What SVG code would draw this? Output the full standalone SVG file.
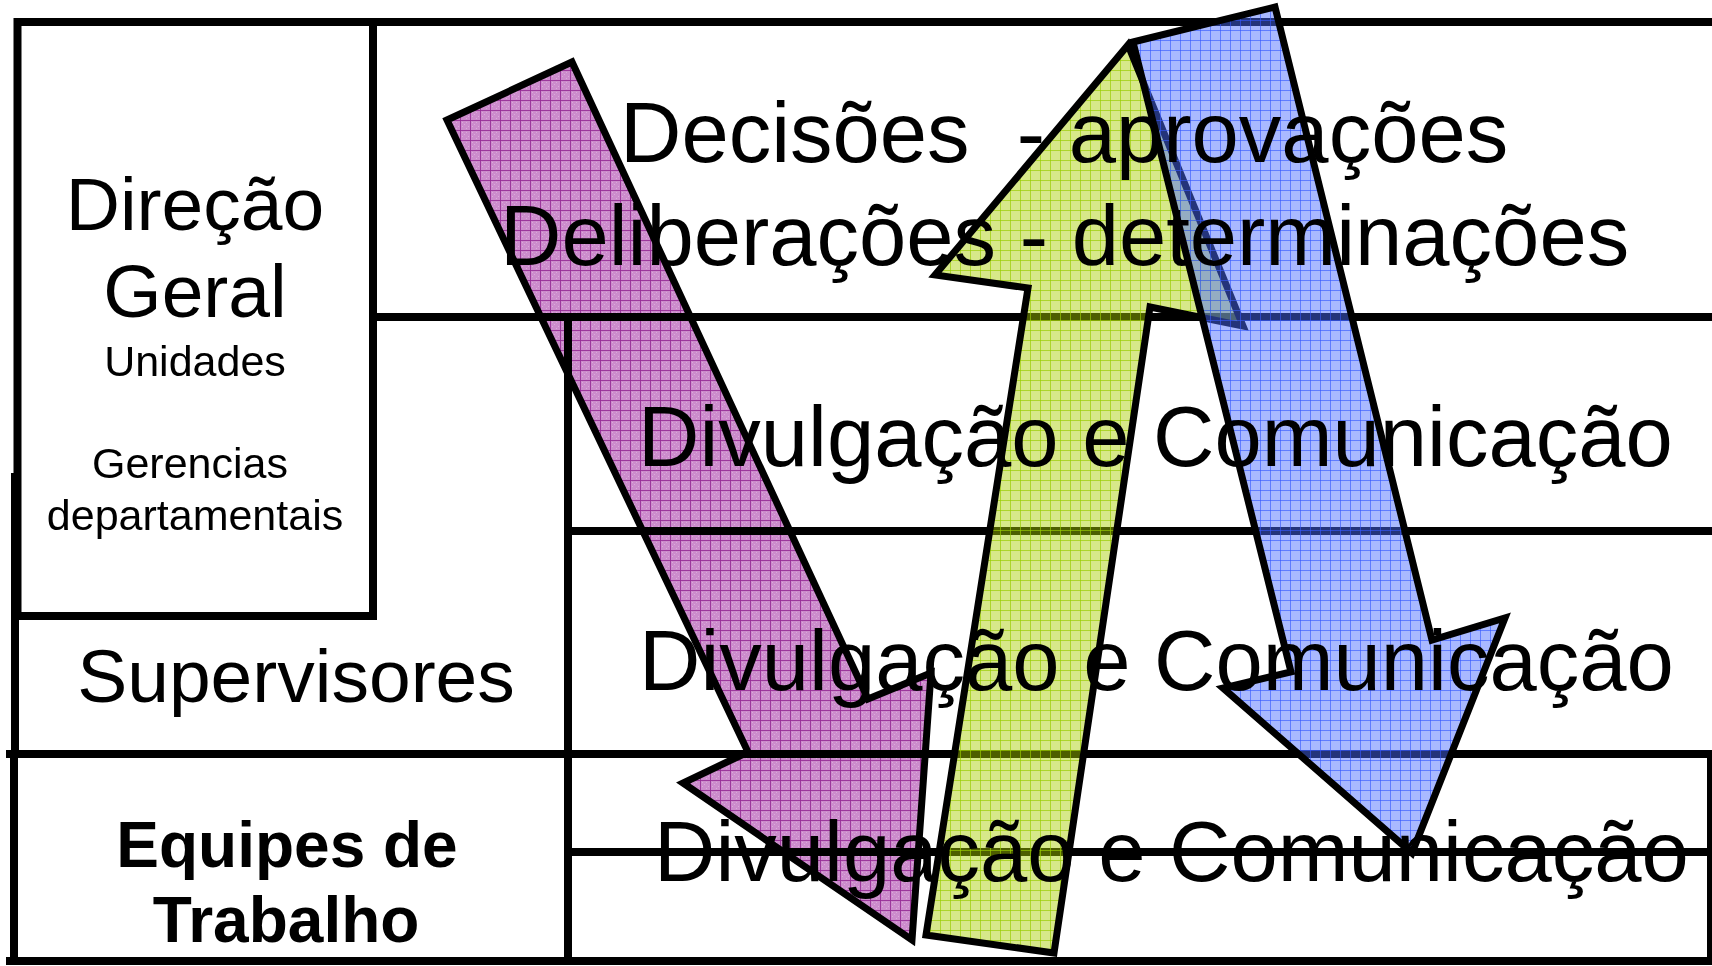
<svg xmlns="http://www.w3.org/2000/svg" width="1712" height="966" viewBox="0 0 1712 966">
<style>
.ln{fill:none;stroke:#000;stroke-width:8;stroke-linecap:square}
.arrow{stroke:#000;stroke-width:7;stroke-linejoin:miter}
.t{font-family:"Liberation Sans",Arial,sans-serif;fill:#000}
.big{font-size:85px}
.mid{font-size:75px}
.sm{font-size:43px}
.bold{font-size:64px;font-weight:bold}
</style>
<defs>
<pattern id="pPurple" width="10" height="10" patternUnits="userSpaceOnUse">
<rect width="10" height="10" fill="#cc8ccc"/>
<path d="M2 2h1v1h-1zM6 2h1v1h-1zM4 4h1v1h-1zM8 6h1v1h-1zM2 6h1v1h-1zM6 8h1v1h-1z" fill="#dcaadc"/>
<path d="M0 0.5H10M0.5 0V10" stroke="#962e96" stroke-width="0.9"/>
</pattern>
<pattern id="pGreen" width="10" height="10" patternUnits="userSpaceOnUse">
<rect width="10" height="10" fill="#a8cc00" fill-opacity="0.46"/>
<path d="M0 0.5H10M0.5 0V10" stroke="#99cc00" stroke-opacity="0.75" stroke-width="0.9"/>
</pattern>
<pattern id="pBlue" width="10" height="10" patternUnits="userSpaceOnUse">
<rect width="10" height="10" fill="#4a6cff" fill-opacity="0.48"/>
<path d="M0 0.5H10M0.5 0V10" stroke="#3558ff" stroke-opacity="0.7" stroke-width="0.9"/>
</pattern>
</defs>
<rect width="1712" height="966" fill="#fff"/>
<g id="table">
<path class="ln" d="M17.5 22H1712M17.5 22V616H373V22M373 317H1712M15 477V754M10 754H1712M14 754V961M568 321V961M568 531H1712M568 852H1712M10 961H1712M1711 754V961"/>
</g>
<g id="connectors">
<polygon id="arrow-down-purple" class="arrow" style="mix-blend-mode:multiply" fill="url(#pPurple)" points="447,120 572,62 868,699 931,673 912,940 683,783 748,752"/>
<polygon id="arrow-up-green" class="arrow" fill="url(#pGreen)" points="1128,45 1243,326 1150,307 1054,953 926,935 1028,288 935,275"/>
<polygon id="arrow-down-blue" class="arrow" fill="url(#pBlue)" points="1133,42 1275,7 1432,640 1505,618 1412,853 1223,688 1291,672"/>
</g>
<g id="node-direcao">
<text class="t mid" x="195" y="230" text-anchor="middle">Direção</text>
<text class="t mid" x="195" y="317" text-anchor="middle">Geral</text>
<text class="t sm" x="195" y="376" text-anchor="middle">Unidades</text>
<text class="t sm" x="190" y="478" text-anchor="middle">Gerencias</text>
<text class="t sm" x="195" y="530" text-anchor="middle">departamentais</text>
</g>
<g id="node-supervisores">
<text class="t mid" x="296" y="702" text-anchor="middle">Supervisores</text>
</g>
<g id="node-equipes">
<text class="t bold" x="287" y="867" text-anchor="middle">Equipes de</text>
<text class="t bold" x="286" y="942" text-anchor="middle">Trabalho</text>
</g>
<g id="node-decisoes">
<text class="t big" x="620" y="162" xml:space="preserve">Decisões  - aprovações</text>
<text class="t big" x="500" y="265">Deliberações - determinações</text>
</g>
<g id="node-divulgacao-1">
<text class="t big" x="638" y="466">Divulgação e Comunicação</text>
</g>
<g id="node-divulgacao-2">
<text class="t big" x="639" y="690">Divulgação e Comunicação</text>
</g>
<g id="node-divulgacao-3">
<text class="t big" x="654" y="881">Divulgação e Comunicação</text>
</g>
</svg>
